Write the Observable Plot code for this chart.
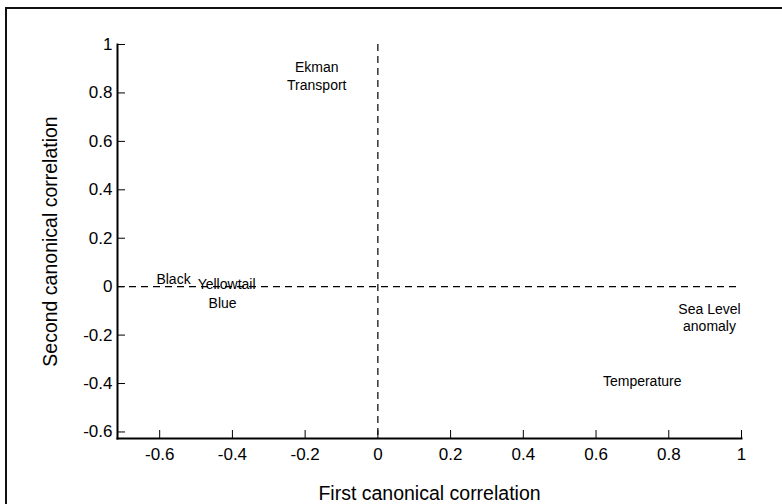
<!DOCTYPE html>
<html>
<head>
<meta charset="utf-8">
<script src="https://cdn.jsdelivr.net/npm/d3@7"></script>
<script src="https://cdn.jsdelivr.net/npm/@observablehq/plot@0.6"></script>
<style>
  html, body { margin: 0; padding: 0; background: #fff; }
  #wrap { position: relative; width: 782px; height: 504px; overflow: hidden; }
  #border { position: absolute; left: 5px; top: 7px; width: 900px; height: 700px;
            border-top: 2px solid #111; border-left: 2px solid #111; pointer-events: none; }
  #chart { position: absolute; left: 0; top: 0; }
</style>
</head>
<body>
<div id="wrap"><div id="chart"></div><div id="border"></div></div>
<script>
const xTicks = [-0.6, -0.4, -0.2, 0, 0.2, 0.4, 0.6, 0.8, 1];
const yTicks = [-0.6, -0.4, -0.2, 0, 0.2, 0.4, 0.6, 0.8, 1];
const labelNames = ["Ekman\nTransport", "Black", "Yellowtail", "Blue", "Sea Level\nanomaly", "Temperature"];
const labelX = [-0.168, -0.562, -0.416, -0.427, 0.912, 0.727];
const labelY = [0.873, 0.033, 0.012, -0.066, -0.124, -0.386];
const xTitle = "First canonical correlation";
const yTitle = "Second canonical correlation";

const labels = labelNames.map((t, i) => ({text: t, x: labelX[i], y: labelY[i]}));
const font = "'Liberation Sans', Arial, Helvetica, sans-serif";

const chart = Plot.plot({
  width: 782,
  height: 504,
  marginLeft: 117,
  marginRight: 41,
  marginTop: 44,
  marginBottom: 66,
  x: {domain: [-0.716, 1]},
  y: {domain: [-0.627, 1]},
  style: {fontFamily: font, color: "black", background: "transparent", overflow: "visible"},
  marks: [
    Plot.ruleX([0], {stroke: "black", strokeWidth: 1.2, strokeDasharray: "7,5"}),
    Plot.ruleY([0], {stroke: "black", strokeWidth: 1.2, strokeDasharray: "7,5"}),
    Plot.axisX(xTicks, {tickSize: -8, tickPadding: 17, fontSize: 17, label: null, tickFormat: d => String(d), stroke: "black"}),
    Plot.axisY(yTicks, {tickSize: -8, tickPadding: 13, fontSize: 17, label: null, tickFormat: d => String(d), stroke: "black"}),
    Plot.frame({anchor: "left", stroke: "black", strokeWidth: 2}),
    Plot.frame({anchor: "bottom", stroke: "black", strokeWidth: 2}),
    Plot.text(labels, {x: "x", y: "y", text: "text", fontSize: 14, lineHeight: 1.25, fill: "black"}),
    Plot.text([xTitle], {frameAnchor: "bottom", dy: 61, textAnchor: "middle", fontSize: 19.5, fill: "black"}),
    Plot.text([yTitle], {frameAnchor: "left", dx: -67, rotate: -90, textAnchor: "middle", fontSize: 19.5, fill: "black"})
  ]
});
document.getElementById("chart").appendChild(chart);
</script>
</body>
</html>
